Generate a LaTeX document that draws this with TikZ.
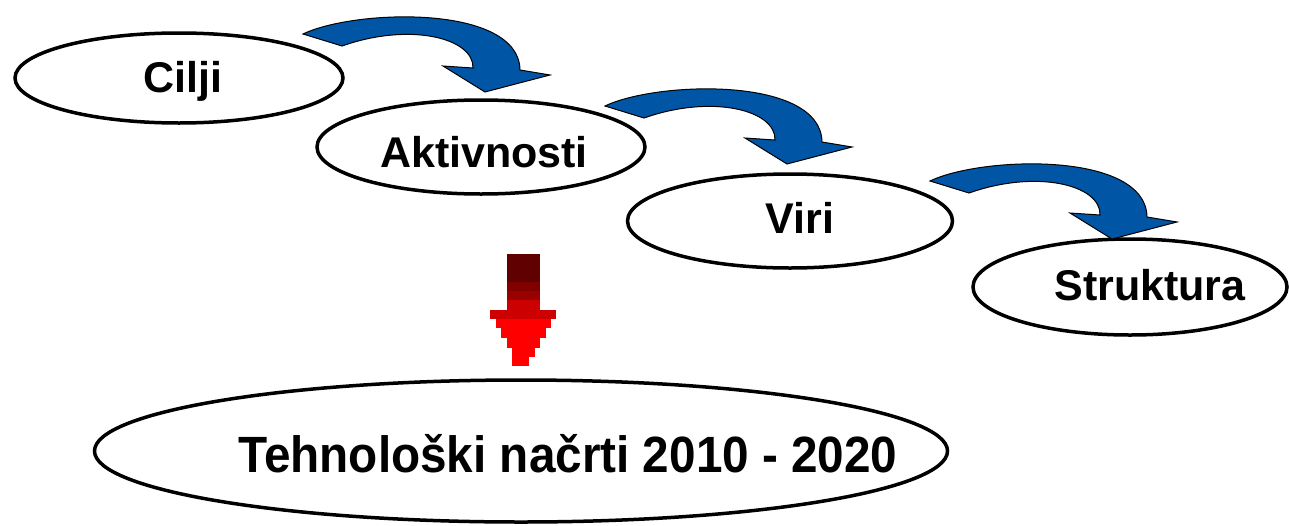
\documentclass[tikz,border=0pt]{standalone}
\usepackage{fontspec}
\setmainfont{Liberation Sans}
\usetikzlibrary{shapes.geometric}
\definecolor{arrowblue}{RGB}{0,85,165}
\definecolor{redA}{RGB}{96,0,0}
\definecolor{redB}{RGB}{128,0,0}
\definecolor{redC}{RGB}{153,0,0}
\definecolor{redD}{RGB}{204,0,0}
\definecolor{redE}{RGB}{255,0,0}
\begin{document}
\begin{tikzpicture}[x=1pt,y=-1pt,
  oval/.style={draw=black,line width=3.5pt,ellipse,inner sep=0pt,fill=white},
  lbl/.style={anchor=base,inner sep=0pt,font=\fontsize{43}{50}\selectfont\bfseries},
  biglbl/.style={anchor=base,inner sep=0pt,font=\fontsize{51}{60}\selectfont\bfseries},
  bluearr/.style={fill=arrowblue,draw=black,line width=1pt,line join=miter}]
\useasboundingbox (0,0) rectangle (1289,525);
% ellipses
\node[oval,minimum width=328pt,minimum height=90pt] (cilji) at (179,78) {};
\node[oval,minimum width=328pt,minimum height=94pt] (aktiv) at (481,147) {};
\node[oval,minimum width=325pt,minimum height=94pt] (viri) at (790,221) {};
\node[oval,minimum width=314pt,minimum height=96pt] (strukt) at (1130,287) {};
\node[oval,minimum width=853pt,minimum height=142pt] (tehno) at (521,451) {};
% labels
\node[lbl] (tcilji) at (183,92) {Cilji};
\node[lbl] (taktiv) at (484,167) {Aktivnosti};
\node[lbl] (tviri) at (800,233) {Viri};
\node[lbl] (tstrukt) at (1150,300) {Struktura};
\node[biglbl] (ttehno) at (568,472) {\scalebox{0.935}[1]{Tehnološki načrti 2010 - 2020}};
% blue curved arrows
\foreach \dx/\dy in {0/0, 302/72, 627/147}{
  \begin{scope}[shift={(\dx,\dy)}]
    \draw[bluearr] (303,34) .. controls (355,9) and (519,4) .. (520,70)
      -- (550,75) -- (485,92) -- (443,66) -- (473,68)
      .. controls (474,38) and (410,22) .. (342,46) -- cycle;
  \end{scope}
}
% red stepped arrow
\fill[redA] (507,254) rectangle (540,282);
\fill[redB] (507,282) rectangle (540,291);
\fill[redC] (507,291) rectangle (540,300);
\fill[redD] (507,300) rectangle (540,310);
\fill[redD] (490,310) rectangle (556,319);
\fill[redE] (496,319) rectangle (551,328);
\fill[redE] (501,328) rectangle (546,338);
\fill[redE] (507,338) rectangle (540,348);
\fill[redE] (512,348) rectangle (535,357);
\fill[redE] (512,357) rectangle (529,366);
\end{tikzpicture}
\end{document}
